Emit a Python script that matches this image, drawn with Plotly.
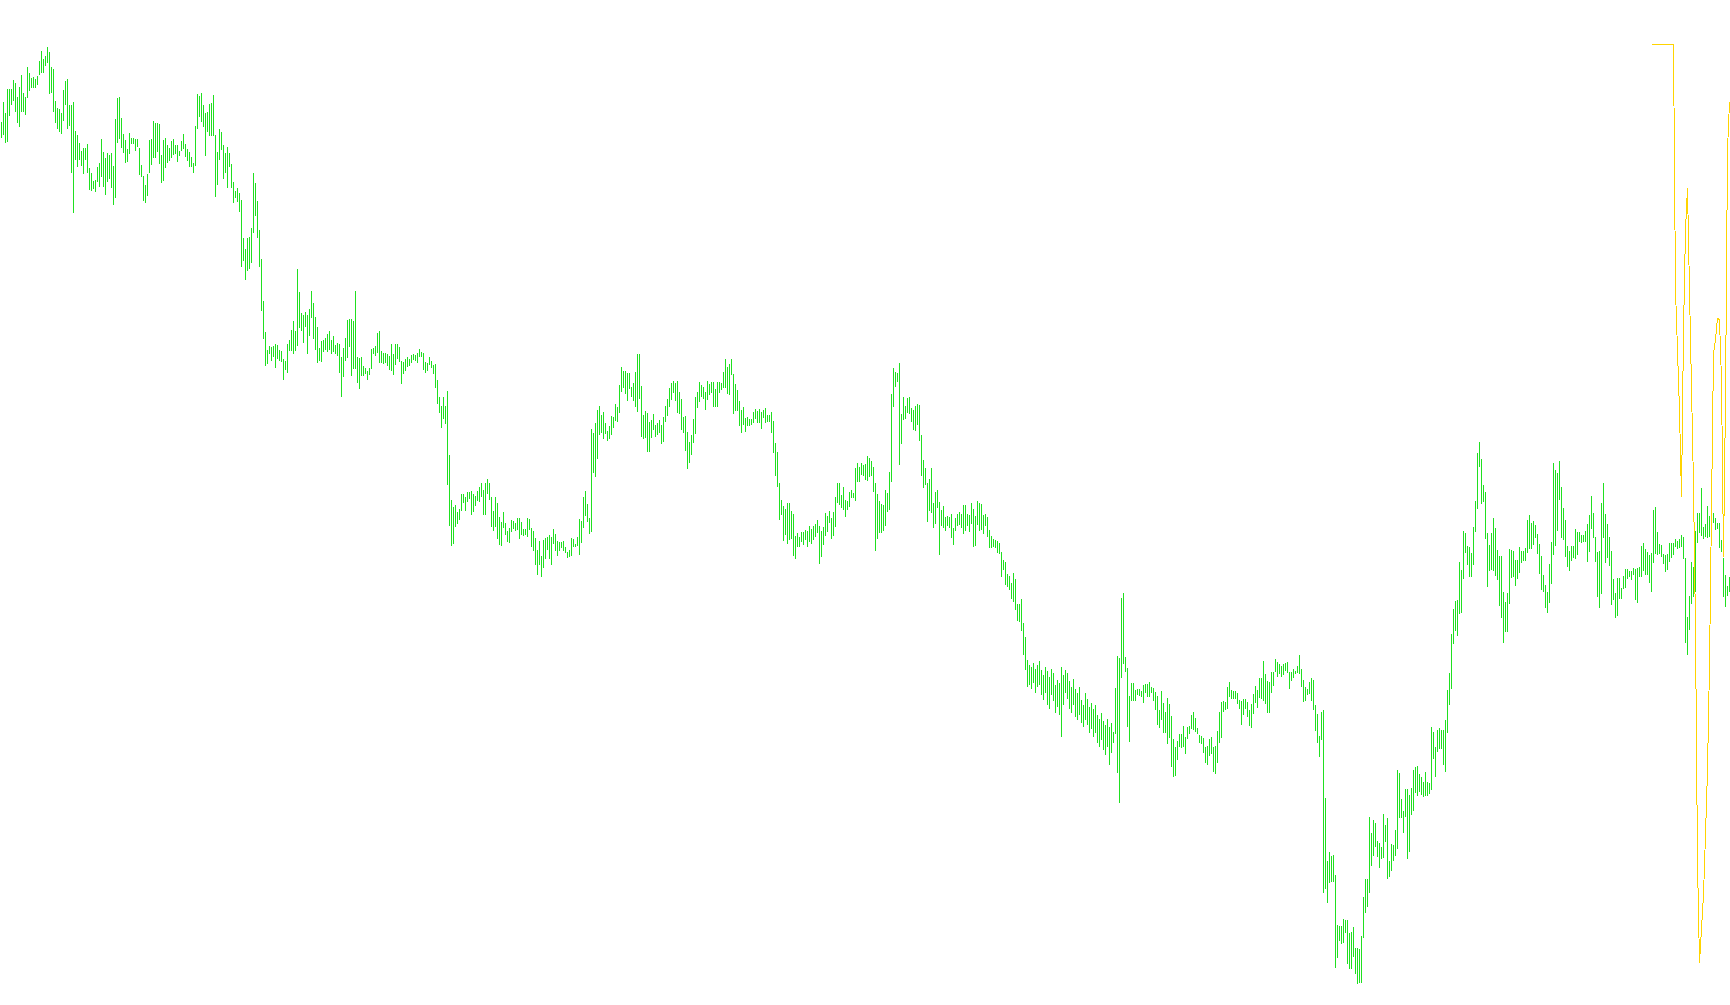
import plotly.graph_objects as go

# ---- data: high / low of each bar (one bar per period) ----
HIGH = [
 883,903,892,916,916,916,925,922,908,918,930,912,908,938,932,927,928,926,929,944,
 954,946,949,958,953,938,936,904,897,896,892,915,924,926,900,900,903,874,870,862,
 854,857,857,861,837,832,824,825,838,842,866,853,847,852,850,852,839,886,907,908,
 887,871,865,856,872,867,867,866,866,857,840,829,820,831,865,866,884,882,882,881,
 850,865,867,860,857,864,866,860,860,854,864,871,861,856,853,848,842,879,911,909,
 912,900,892,893,901,902,910,870,853,876,873,860,852,858,852,841,823,814,817,812,
 805,767,756,767,768,777,832,822,804,775,746,704,673,655,659,658,659,661,660,655,
 654,646,644,661,665,675,684,674,736,713,692,690,693,690,696,714,702,688,678,657,
 664,665,667,671,674,665,669,660,662,661,648,657,667,685,686,686,684,714,648,647,
 648,639,637,634,637,656,657,659,672,674,654,652,652,651,649,661,651,661,661,658,
 644,643,646,648,646,650,651,650,652,656,653,652,643,642,648,644,640,641,625,608,
 599,608,599,614,550,505,498,500,493,496,511,511,508,513,513,514,511,509,514,518,
 522,515,522,526,522,508,494,508,502,488,483,493,482,474,477,485,484,482,487,487,
 483,476,476,487,486,477,474,467,455,464,449,465,467,468,470,468,476,471,464,463,
 463,464,458,453,455,467,466,461,468,486,484,508,514,501,487,576,572,582,595,599,
 590,593,582,574,579,589,588,601,598,620,638,634,634,632,632,618,622,633,651,651,
 619,590,594,592,583,585,591,580,582,585,580,588,599,606,617,622,624,622,624,613,
 606,588,589,573,563,570,586,608,613,623,620,618,613,624,621,623,623,616,623,623,
 622,633,646,638,641,646,631,621,615,604,595,598,587,588,586,586,593,596,594,596,
 593,595,597,590,590,593,584,562,553,522,505,499,496,502,502,494,491,469,472,468,
 473,473,475,474,479,476,479,481,485,479,474,478,492,489,494,487,493,508,522,522,
 510,518,505,504,513,515,512,537,542,538,542,540,541,549,547,544,538,522,511,504,
 501,500,515,512,533,611,637,633,632,642,591,608,599,607,608,597,595,599,601,600,
 570,545,537,522,526,537,502,513,515,503,495,499,488,489,488,491,477,487,491,493,
 491,500,500,491,490,502,496,489,504,502,501,490,491,488,475,469,466,465,464,462,
 453,445,443,431,429,422,432,426,401,401,406,382,368,345,340,338,342,336,340,344,
 335,330,338,334,328,336,332,320,325,322,338,330,335,332,324,318,326,316,312,318,
 305,300,312,306,298,302,296,300,290,286,292,284,280,286,278,282,273,317,349,347,
 407,412,348,337,309,322,322,315,316,316,314,320,321,321,323,318,317,313,309,295,
 314,302,293,307,301,289,266,258,264,271,271,279,268,278,279,290,293,287,277,270,
 269,267,258,259,266,268,258,259,274,293,303,304,303,318,323,315,314,314,312,305,
 304,306,306,303,295,301,311,319,315,327,327,344,331,324,323,333,333,346,343,341,
 339,341,342,343,333,333,336,334,339,350,336,325,318,316,323,327,325,300,291,269,
 293,295,207,144,153,149,150,130,80,79,79,86,85,85,72,73,78,57,57,56,
 69,108,126,126,188,172,185,182,164,162,158,191,180,187,144,161,160,175,235,232,
 206,194,216,216,210,217,235,238,239,231,228,223,233,223,222,278,273,258,275,277,
 275,275,285,315,332,371,396,404,405,443,435,474,472,459,458,452,478,504,552,563,
 546,520,513,472,460,472,487,477,455,449,449,413,403,412,456,455,454,445,445,458,
 454,454,457,485,490,482,484,480,471,461,449,430,420,413,441,463,542,535,532,544,
 518,497,485,459,454,459,459,476,473,473,470,470,474,481,490,509,492,468,453,454,
 502,522,491,481,468,454,426,412,427,427,417,429,436,436,434,434,437,436,437,438,
 459,462,456,453,450,452,495,498,473,461,460,451,450,451,462,462,462,466,464,466,
 470,468,447,388,409,443,438,474,492,492,517,478,481,499,489,492,492,487,482,482,
 465,447,430,419,428,
]
LOW = [
 867,870,862,863,889,900,904,893,882,878,893,893,890,907,914,917,917,917,920,930,
 932,932,939,942,911,912,893,882,876,873,871,884,900,876,879,832,792,845,838,845,
 839,831,845,832,815,814,816,813,823,818,828,818,810,823,826,817,800,807,862,866,
 857,852,842,843,851,861,861,854,858,830,828,804,802,809,832,840,847,847,853,841,
 822,824,837,842,844,847,850,851,843,849,854,856,848,844,838,838,832,839,876,888,
 883,878,849,873,869,869,869,808,820,845,855,826,832,817,838,817,802,807,803,793,
 738,744,725,734,736,742,772,789,767,738,694,666,639,641,651,644,648,637,646,644,
 643,625,635,632,654,654,651,654,659,677,674,662,678,651,669,687,666,655,642,644,
 643,653,655,653,655,651,653,651,649,632,608,628,644,647,658,629,636,636,622,616,
 629,629,631,625,630,636,651,649,652,642,642,641,642,639,635,634,630,640,646,643,
 621,631,634,638,639,642,645,644,642,648,648,635,632,634,640,637,631,617,601,592,
 577,586,581,520,479,459,461,478,481,485,494,502,494,503,506,490,493,499,504,503,
 508,490,490,511,505,478,474,478,466,460,459,477,470,463,462,473,476,474,475,466,
 470,469,470,468,475,458,454,440,430,440,428,437,446,455,446,440,461,454,449,454,
 457,454,452,447,448,449,458,458,459,450,462,477,489,483,471,473,532,528,546,570,
 572,566,571,564,566,570,577,584,583,592,613,617,611,604,616,608,604,598,593,606,
 568,566,567,553,553,567,575,568,570,572,561,563,583,589,598,605,612,604,592,591,
 575,572,554,536,542,550,562,571,597,603,608,606,595,605,610,612,598,598,598,612,
 615,617,617,611,610,630,591,594,594,579,572,580,573,579,579,580,582,586,582,582,
 576,587,582,583,583,572,552,529,518,485,490,464,470,461,465,466,449,446,458,458,
 463,460,465,458,463,461,465,468,472,441,448,460,469,473,482,466,469,478,502,500,
 497,495,488,495,498,507,507,504,523,523,530,529,525,524,528,529,513,454,466,472,
 472,474,479,493,495,523,598,618,623,540,561,585,586,592,591,583,575,574,580,564,
 529,517,520,483,494,492,477,481,497,450,479,477,474,479,477,467,460,474,479,480,
 477,471,474,479,473,481,458,459,480,474,475,471,479,468,457,457,458,457,452,451,
 428,435,420,418,415,406,403,395,384,383,374,350,335,318,320,316,322,312,318,320,
 310,305,312,300,296,310,304,292,298,290,268,300,312,306,296,292,300,288,285,290,
 282,278,285,280,272,276,268,272,262,258,265,255,250,258,240,252,262,271,232,202,
 327,341,333,278,263,304,304,304,310,309,308,302,312,308,308,312,304,295,280,277,
 285,272,272,261,267,238,228,229,245,258,257,258,251,266,271,276,275,273,271,262,
 261,252,242,240,249,251,233,231,242,262,267,293,295,296,308,306,306,306,301,296,
 280,290,296,288,279,277,291,302,297,307,306,304,301,292,292,312,319,333,328,331,
 328,330,334,332,316,324,327,331,332,331,318,303,304,310,311,304,295,274,262,248,
 265,112,116,102,122,123,123,37,47,64,61,62,72,41,36,36,48,31,21,22,
 22,67,92,98,112,139,149,158,148,137,146,147,163,126,128,134,144,149,156,187,
 187,172,188,146,153,190,194,212,209,213,210,208,209,209,211,215,246,228,253,256,
 256,240,233,272,300,316,361,374,369,391,392,426,452,440,428,428,440,473,496,538,
 501,503,466,418,434,435,434,429,425,399,387,362,373,373,401,427,428,419,426,432,
 442,444,444,452,456,456,460,467,451,431,415,413,397,392,402,421,450,459,474,505,
 467,465,448,438,434,444,447,446,450,463,462,463,463,443,453,476,467,443,408,397,
 411,467,442,447,439,400,405,387,389,406,406,416,417,426,428,425,430,405,402,428,
 428,434,430,430,422,413,442,451,450,451,448,441,433,435,443,447,450,458,456,457,
 458,446,362,350,375,401,408,413,462,472,469,466,468,467,468,473,482,475,476,457,
 453,408,398,409,413,
]
# second series (line), starting at bar 825
LINE_START = 825
LINE = [961, 961, 961, 961, 961, 961, 961, 961, 961, 961, 961, 961,
        715, 655, 594, 508, 675, 775, 817, 715, 615, 520, 375, 143, 42, 80,
        110, 170, 235, 340, 475, 652, 665, 687, 685, 625, 448, 605, 855, 903]

n = min(len(HIGH), len(LOW))
idx = list(range(n))
span = [HIGH[i] - LOW[i] for i in idx]

fig = go.Figure()
fig.add_trace(go.Bar(x=idx, y=span, base=LOW[:n], width=0.5,
                     marker=dict(color="rgb(32,224,32)", line=dict(width=0)),
                     hoverinfo="skip"))
fig.add_trace(go.Scatter(x=list(range(LINE_START, LINE_START + len(LINE))), y=LINE,
                         mode="lines", line=dict(color="#ffd400", width=1),
                         hoverinfo="skip"))

axis_common = dict(showgrid=False, zeroline=False, showticklabels=False,
                   ticks="", showline=False, fixedrange=True)
fig.update_layout(
    width=1730, height=1005,
    margin=dict(l=0, r=0, t=0, b=0, pad=0),
    paper_bgcolor="white", plot_bgcolor="white",
    showlegend=False, barmode="overlay",
    xaxis=dict(range=[-0.75, 864.25], **axis_common),
    yaxis=dict(range=[0, 1005], **axis_common),
)
fig.write_html(
    "out.html", config={"displayModeBar": False},
    post_script=(
        "document.body.style.margin='0';document.body.style.overflow='hidden';"
        "document.querySelectorAll('.scatterlayer path, .barlayer path').forEach(function(p){"
        "p.style.shapeRendering='crispEdges';});"
    ),
)
